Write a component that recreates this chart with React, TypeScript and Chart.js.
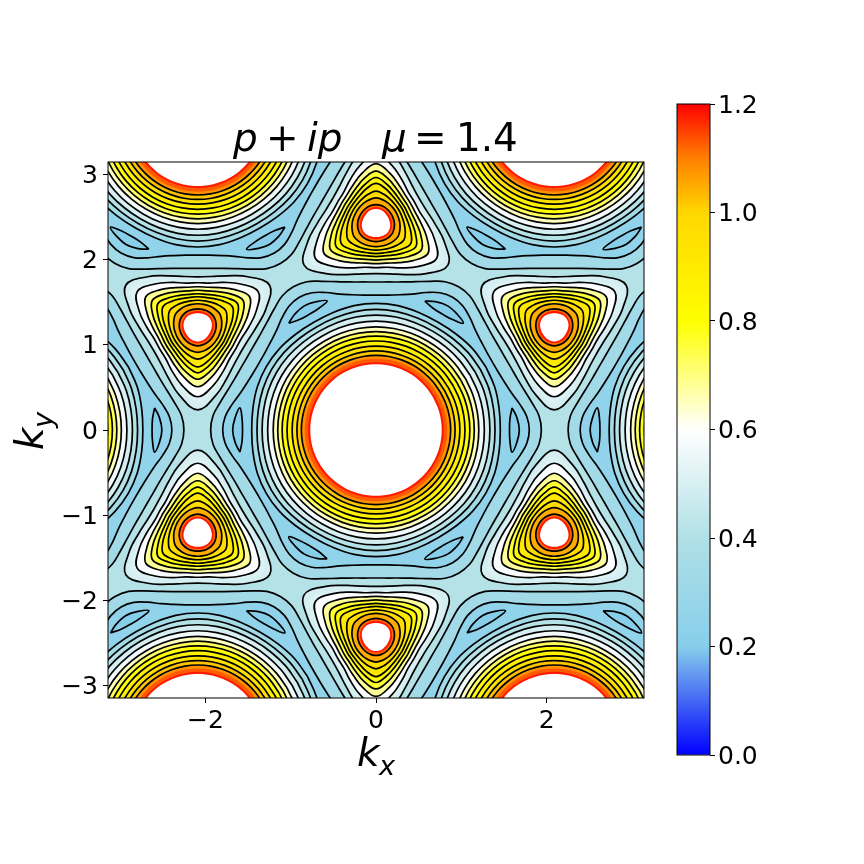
import React, { useEffect, useRef } from "react";
import { Chart, registerables } from "chart.js";

Chart.register(...registerables);

// Field extent and axis ticks
const kMin = -3.14159;
const kMax = 3.14159;
const xTicks = [-2, 0, 2];
const yTicks = [-3, -2, -1, 0, 1, 2, 3];
const barTicks = [0, 0.2, 0.4, 0.6, 0.8, 1.0, 1.2];

// Colour scale
const cmapValues = [0, 0.2, 0.4, 0.6, 0.8, 1.0, 1.1, 1.2];
const cmapColors = [
  [0, 0, 255],
  [135, 206, 235],
  [176, 224, 230],
  [255, 255, 255],
  [255, 255, 0],
  [255, 215, 0],
  [255, 128, 0],
  [255, 0, 0],
];

// Centres of the large round peaks and of the triangular peaks
const gammaX = [0, -4.19, 4.19, -2.09, 2.09, -2.09, 2.09];
const gammaY = [0, 0, 0, 3.63, 3.63, -3.63, -3.63];
const triUpX = [0, -2.09, 2.09];
const triUpY = [2.42, -1.21, -1.21];
const triDownX = [0, -2.09, 2.09];
const triDownY = [-2.42, 1.21, 1.21];

const hexLevels = [0.37, 0.29];
const hexRadii = [
  [1.938, 1.918, 1.855, 1.80, 1.762, 1.742, 1.735],
  [1.797, 1.775, 1.715, 1.65, 1.61, 1.587, 1.58],
];
// Round contours; sampled at 0,10,20,30 deg
const ringLevels = [0.29, 0.37, 0.45, 0.53, 0.61, 0.69, 0.77, 0.85, 0.93, 1.01, 1.09];
const ringRadii = [
  [1.457, 1.465, 1.48, 1.485],
  [1.395, 1.40, 1.41, 1.415],
  [1.335, 1.338, 1.345, 1.347],
  [1.27, 1.272, 1.275, 1.277],
  [1.205, 1.206, 1.208, 1.21],
  [1.152, 1.152, 1.153, 1.154],
  [1.10, 1.10, 1.10, 1.10],
  [1.043, 1.043, 1.043, 1.043],
  [0.983, 0.983, 0.983, 0.983],
  [0.927, 0.927, 0.927, 0.927],
  [0.875, 0.875, 0.875, 0.875],
];
const ringColorLevels = [0.33, 0.41, 0.49, 0.57, 0.65, 0.73, 0.81, 0.88, 0.95, 1.02, 1.08];
// Unlined steps towards the top of the scale, and the over-range hole
const ringSoftLevels = [1.13, 1.18];
const ringSoft = [
  [0.835, 0.835, 0.835, 0.835],
  [0.795, 0.795, 0.795, 0.795],
];
const ringHole = [0.77, 0.77, 0.77, 0.77];

// Triangular contours; sampled at 0,15,30,45,60 deg from the apex direction
const triColorLevels = [0.49, 0.59, 0.68, 0.76, 0.83, 0.91, 0.98, 1.05, 1.12];
const triRadii = [
  [0.973, 0.83, 0.69, 0.61, 0.586],
  [0.82, 0.71, 0.60, 0.53, 0.516],
  [0.703, 0.615, 0.53, 0.48, 0.469],
  [0.615, 0.545, 0.475, 0.435, 0.428],
  [0.54, 0.48, 0.425, 0.393, 0.387],
  [0.47, 0.425, 0.38, 0.356, 0.352],
  [0.38, 0.355, 0.33, 0.315, 0.311],
  [0.30, 0.29, 0.28, 0.272, 0.27],
  [0.223, 0.22, 0.216, 0.212, 0.211],
];
const triHole = [0.172, 0.17, 0.165, 0.16, 0.158];
const triInnerSoftLevel = 1.18;
const triInnerSoft = [0.19, 0.19, 0.187, 0.185, 0.184];
const triSoftLevel = 0.51;
const triSoft = [0.89, 0.76, 0.64, 0.57, 0.55];

// Small closed contours in the blue valleys (radial, tangential)
const lensLevel = 0.2;
const lensU = [1.595, 1.65, 1.68, 1.65, 1.595, 1.57, 1.565, 1.57, 1.595];
const lensV = [0.26, 0.15, 0, -0.15, -0.26, -0.13, 0, 0.13, 0.26];

const bandOffset = 0.04;
const baseLevel = 0.41;
const LINE = "#000000";
const FONT = '"DejaVu Sans"';

function colorAt(v: number): string {
  const c = Math.max(0, Math.min(1.2, v));
  let i = 0;
  while (i < cmapValues.length - 2 && c > cmapValues[i + 1]) i++;
  const t = (c - cmapValues[i]) / (cmapValues[i + 1] - cmapValues[i]);
  const a = cmapColors[i];
  const b = cmapColors[i + 1];
  return `rgb(${a.map((p, j) => Math.round(p + (b[j] - p) * t)).join(",")})`;
}

const rad = (d: number) => (d * Math.PI) / 180;

function sixfoldLoop(cx: number, cy: number, radii: number[], step: number) {
  const pts = [];
  const n = 360 / step;
  for (let s = 0; s <= n; s++) {
    const a = 30 + s * step;
    const m = a % 60;
    const r = radii[(m <= 30 ? m : 60 - m) / step];
    pts.push({ x: cx + r * Math.cos(rad(a)), y: cy + r * Math.sin(rad(a)) });
  }
  return pts;
}

function triLoop(cx: number, cy: number, apex: number, radii: number[]) {
  const pts = [];
  for (let s = 0; s <= 24; s++) {
    const a = 60 + s * 15;
    const m = a % 120;
    const r = radii[(m <= 60 ? m : 120 - m) / 15];
    const d = rad(apex + a);
    pts.push({ x: cx + r * Math.cos(d), y: cy + r * Math.sin(d) });
  }
  return pts;
}

function lensLoop(cx: number, cy: number, dir: number) {
  const c = Math.cos(rad(dir));
  const s = Math.sin(rad(dir));
  return lensU.map((u, i) => ({
    x: cx + u * c - lensV[i] * s,
    y: cy + u * s + lensV[i] * c,
  }));
}

function buildDatasets() {
  const painted: any[] = [];
  const add = (data: any[], fillColor: string, outline: boolean) =>
    painted.push({
      data,
      showLine: true,
      fill: "shape",
      backgroundColor: fillColor,
      borderColor: LINE,
      borderWidth: outline ? 1.7 : 0,
      pointRadius: 0,
      tension: 0.4,
      capBezierPoints: false,
      borderJoinStyle: "round",
    });
  gammaX.forEach((cx, g) => {
    hexRadii.forEach((radii, i) => add(sixfoldLoop(cx, gammaY[g], radii, 5), colorAt(hexLevels[i] - bandOffset), true));
  });
  gammaX.forEach((cx, g) => {
    for (let d = 0; d < 360; d += 60) add(lensLoop(cx, gammaY[g], d), colorAt(lensLevel), true);
    ringRadii.forEach((radii, i) => add(sixfoldLoop(cx, gammaY[g], radii, 10), colorAt(ringColorLevels[i]), true));
    ringSoft.forEach((radii, i) => add(sixfoldLoop(cx, gammaY[g], radii, 10), colorAt(ringSoftLevels[i]), false));
    add(sixfoldLoop(cx, gammaY[g], ringHole, 10), "#ffffff", false);
  });
  const addTri = (cx: number, cy: number, apex: number) => {
    triRadii.forEach((radii, i) => {
      add(triLoop(cx, cy, apex, radii), colorAt(triColorLevels[i]), true);
      if (i === 0) add(triLoop(cx, cy, apex, triSoft), colorAt(triSoftLevel), false);
    });
    add(triLoop(cx, cy, apex, triInnerSoft), colorAt(triInnerSoftLevel), false);
    add(triLoop(cx, cy, apex, triHole), "#ffffff", false);
  };
  triUpX.forEach((cx, i) => addTri(cx, triUpY[i], 90));
  triDownX.forEach((cx, i) => addTri(cx, triDownY[i], 270));
  painted.forEach((d, i) => (d.order = painted.length - i));
  return painted;
}

function drawRuns(ctx: CanvasRenderingContext2D, runs: [string, number, number, number, boolean][]) {
  ctx.textAlign = "left";
  ctx.textBaseline = "alphabetic";
  ctx.fillStyle = "#000";
  for (const [text, x, y, size, italic] of runs) {
    ctx.font = `${italic ? "italic " : ""}${size}px ${FONT}`;
    ctx.fillText(text, x, y);
  }
}

const framePlugin = {
  id: "frame",
  beforeDatasetsDraw(chart: any) {
    const { ctx, chartArea: a } = chart;
    ctx.save();
    ctx.fillStyle = colorAt(baseLevel);
    ctx.fillRect(a.left, a.top, a.right - a.left, a.bottom - a.top);
    ctx.restore();
  },
  afterDraw(chart: any) {
    const { ctx, chartArea: a } = chart;
    ctx.save();
    ctx.strokeStyle = "#000";
    ctx.lineWidth = 1;
    ctx.strokeRect(a.left, a.top, a.right - a.left, a.bottom - a.top);
    drawRuns(ctx, [
      ["p", 233, 151, 38.9, true],
      ["+", 266, 151, 38.9, false],
      ["ip", 307, 151, 38.9, true],
      ["\u03bc", 382, 151, 38.9, true],
      ["=", 414, 151, 38.9, false],
      ["1.4", 456, 151, 38.9, false],
      ["k", 357, 766, 38.9, true],
      ["x", 379, 775, 27.2, true],
    ]);
    ctx.translate(43, 450);
    ctx.rotate(-Math.PI / 2);
    drawRuns(ctx, [
      ["k", 0, 0, 38.9, true],
      ["y", 22, 9, 27.2, true],
    ]);
    ctx.restore();
  },
};

const tickFont = { family: FONT, size: 25 };
// Two-line tick label with a tiny line height: nudges the digits down to sit centred on the tick
const nudgedFont = { family: FONT, size: 25, lineHeight: 0.16 };

export default function App() {
  const mainRef = useRef<HTMLCanvasElement>(null);
  const barRef = useRef<HTMLCanvasElement>(null);

  useEffect(() => {
    const main = new Chart(mainRef.current as HTMLCanvasElement, {
      type: "scatter",
      data: { datasets: buildDatasets() },
      plugins: [framePlugin],
      options: {
        animation: false,
        responsive: false,
        devicePixelRatio: 1,
        events: [],
        layout: { padding: { left: 0, top: 162, right: 220, bottom: 116 } },
        plugins: { legend: { display: false }, tooltip: { enabled: false }, title: { display: false } },
        scales: {
          x: {
            type: "linear",
            min: kMin,
            max: kMax,
            afterBuildTicks: (s: any) => (s.ticks = xTicks.map((value) => ({ value }))),
            afterFit: (s: any) => (s.height = 50),
            grid: { drawOnChartArea: false, drawTicks: true, tickLength: 5, tickColor: "#000" },
            border: { display: false },
            ticks: { font: tickFont, color: "#000", padding: 3, maxRotation: 0, autoSkip: false, callback: (v: any) => String(v).replace("-", "\u2212") },
          },
          y: {
            type: "linear",
            min: kMin,
            max: kMax,
            afterBuildTicks: (s: any) => (s.ticks = yTicks.map((value) => ({ value }))),
            afterFit: (s: any) => (s.width = 108),
            grid: { drawOnChartArea: false, drawTicks: true, tickLength: 5, tickColor: "#000" },
            border: { display: false },
            ticks: { font: nudgedFont, color: "#000", padding: 5, autoSkip: false, callback: (v: any) => ["", String(v).replace("-", "\u2212")] },
          },
        },
      },
    } as any);

    const bar = new Chart(barRef.current as HTMLCanvasElement, {
      type: "bar",
      data: {
        labels: [""],
        datasets: [
          {
            data: [[0, 1.2]],
            barPercentage: 1,
            categoryPercentage: 1,
            backgroundColor: (c: any) => {
              const a = c.chart.chartArea;
              if (!a) return "#ffffff";
              const g = c.chart.ctx.createLinearGradient(0, a.bottom, 0, a.top);
              cmapValues.forEach((v, i) => g.addColorStop(v / 1.2, `rgb(${cmapColors[i].join(",")})`));
              return g;
            },
          },
        ],
      },
      plugins: [
        {
          id: "barFrame",
          afterDraw(chart: any) {
            const { ctx, chartArea: a } = chart;
            ctx.save();
            ctx.strokeStyle = "#000";
            ctx.lineWidth = 1;
            ctx.strokeRect(a.left, a.top, a.right - a.left, a.bottom - a.top);
            ctx.restore();
          },
        },
      ],
      options: {
        animation: false,
        responsive: false,
        devicePixelRatio: 1,
        events: [],
        layout: { padding: { left: 37, top: 104, right: 0, bottom: 109 } },
        plugins: { legend: { display: false }, tooltip: { enabled: false } },
        scales: {
          x: { display: false },
          y: {
            position: "right",
            min: 0,
            max: 1.2,
            afterBuildTicks: (s: any) => (s.ticks = barTicks.map((value) => ({ value }))),
            afterFit: (s: any) => (s.width = 154),
            grid: { drawOnChartArea: false, drawTicks: true, tickLength: 5, tickColor: "#000" },
            border: { display: false },
            ticks: { font: nudgedFont, color: "#000", padding: 3, autoSkip: false, callback: (v: any) => ["", Number(v).toFixed(1)] },
          },
        },
      },
    } as any);

    return () => {
      main.destroy();
      bar.destroy();
    };
  }, []);

  return (
    <div style={{ position: "absolute", left: 0, top: 0, width: 864, height: 864, background: "#fff" }}>
      <canvas ref={mainRef} width={864} height={864} style={{ position: "absolute", left: 0, top: 0 }} />
      <canvas ref={barRef} width={224} height={864} style={{ position: "absolute", left: 640, top: 0 }} />
    </div>
  );
}
